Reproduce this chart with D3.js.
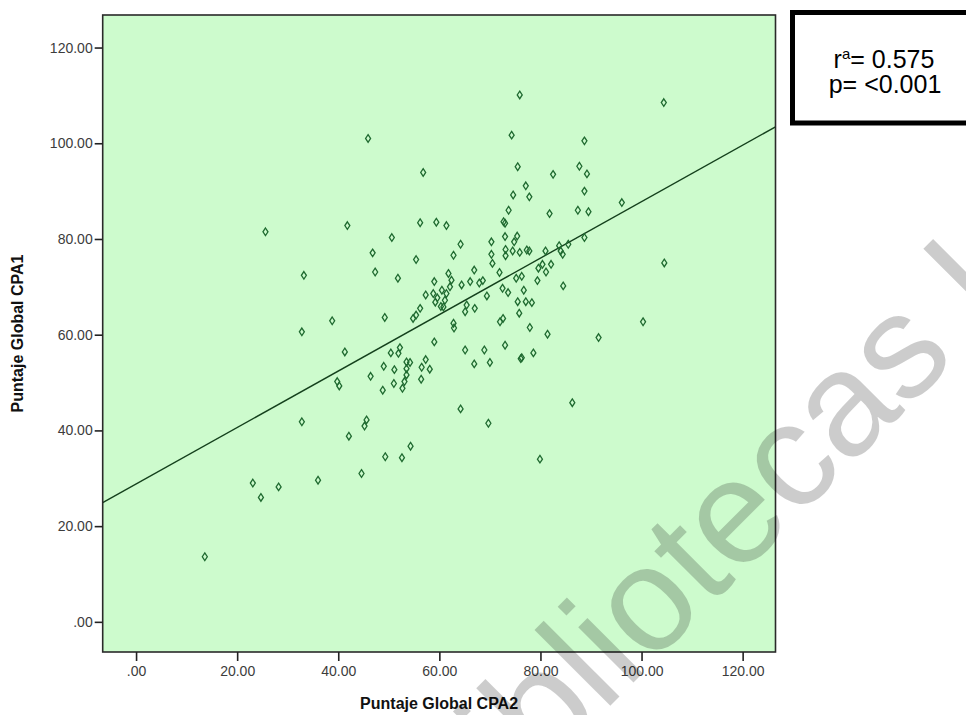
<!DOCTYPE html>
<html>
<head>
<meta charset="utf-8">
<script src="https://cdn.jsdelivr.net/npm/d3@7"></script>
<style>
  body { margin: 0; background: #ffffff; }
  svg { display: block; }
  text { font-family: "Liberation Sans", Arial, sans-serif; }
</style>
</head>
<body>
<svg id="chart" width="966" height="715"></svg>
<script>
// Puntaje Global CPA2 (x) and CPA1 (y), one entry per subject
const cpa2 = [
  45.9, 56.8, 25.6, 41.8, 56.2, 59.4, 50.6, 46.8, 55.4, 33.2,
  47.3, 51.8, 59.0, 57.3, 58.8, 60.5, 59.2, 59.6, 60.3, 56.2,
  54.8, 55.4, 49.2, 38.8, 32.8, 41.3, 50.4, 51.9, 52.2, 59.0,
  49.0, 51.1, 51.0, 48.8, 52.7, 53.5, 54.2, 53.5, 53.5, 53.1,
  56.4, 56.5, 57.3, 58.1, 46.4, 39.8, 40.2, 32.8, 45.2, 45.6,
  42.1, 54.3, 49.3, 52.6, 44.6, 23.1, 24.7, 28.2, 36.0, 13.6,
  75.9, 104.4, 74.3, 88.7, 75.5, 87.7, 89.2, 82.5, 77.1, 77.8,
  74.6, 88.7, 73.7, 81.8, 87.4, 89.5, 96.1, 72.7, 73.0, 61.4,
  64.2, 70.3, 73.0, 75.4, 74.8, 62.8, 70.3, 73.1, 73.1, 74.5,
  75.9, 77.3, 77.8, 81.0, 83.7, 84.0, 84.4, 85.5, 88.7, 70.5,
  66.9, 71.9, 79.6, 80.4, 81.1, 82.1, 104.5, 61.8, 62.4, 62.1,
  61.4, 61.1, 60.8, 64.4, 66.1, 67.9, 68.6, 75.2, 76.3, 79.4,
  84.5, 69.4, 72.5, 73.6, 76.7, 77.1, 78.3, 75.5, 75.8, 65.4,
  65.1, 67.0, 62.8, 62.9, 72.0, 72.6, 77.9, 81.4, 91.5, 100.3,
  65.1, 68.9, 73.0, 66.9, 70.0, 76.1, 76.3, 78.6, 64.2, 69.7,
  86.3, 79.9
];
const cpa1 = [
  101.0, 93.9, 81.5, 82.8, 83.4, 83.5, 80.3, 77.1, 75.7, 72.4,
  73.1, 71.8, 71.1, 68.3, 68.6, 69.3, 66.8, 67.7, 65.9, 65.5,
  63.4, 64.1, 63.6, 62.9, 60.6, 56.4, 56.2, 56.1, 57.3, 58.5,
  53.4, 52.7, 49.8, 48.4, 48.8, 54.3, 54.2, 52.9, 51.6, 50.2,
  50.7, 53.2, 54.8, 52.8, 51.3, 50.2, 49.3, 41.8, 40.9, 42.2,
  38.8, 36.7, 34.5, 34.3, 31.0, 29.0, 26.0, 28.2, 29.6, 13.6,
  110.1, 108.5, 101.7, 100.5, 95.1, 95.2, 93.6, 93.5, 91.1, 88.8,
  89.2, 90.0, 86.0, 85.3, 86.0, 85.7, 87.6, 83.6, 83.3, 82.8,
  78.9, 79.4, 80.5, 80.6, 79.4, 76.6, 76.8, 77.8, 76.5, 77.5,
  77.2, 77.7, 77.5, 77.5, 78.6, 77.5, 76.8, 78.9, 80.3, 74.9,
  73.5, 73.0, 73.9, 74.7, 73.1, 74.7, 75.0, 72.8, 71.4, 70.0,
  68.6, 67.2, 65.8, 70.4, 71.1, 70.8, 71.3, 71.8, 72.2, 71.3,
  70.2, 68.1, 69.7, 68.8, 69.3, 66.9, 66.7, 66.9, 64.5, 66.2,
  64.8, 65.5, 62.4, 61.4, 62.7, 63.4, 61.5, 60.1, 59.4, 62.7,
  56.8, 56.8, 57.8, 53.9, 54.2, 55.0, 55.2, 56.2, 44.5, 41.5,
  45.8, 34.0
];

// Axis ticks and their printed labels
const tickValues = [0, 20, 40, 60, 80, 100, 120];
const tickLabels = [".00", "20.00", "40.00", "60.00", "80.00", "100.00", "120.00"];

// Axis ranges shown on each axis
const xDomain = [-6.6, 126.5];
const yDomain = [-6.3, 126.8];

// Fitted linear regression CPA1 = a + b * CPA2
const fitIntercept = 28.8;
const fitSlope = 0.59;

// Statistics box
const statR = "0.575";
const statP = "<0.001";

const xTitle = "Puntaje Global CPA2";
const yTitle = "Puntaje Global CPA1";
const watermark = "Bibliotecas UA";

const svg = d3.select("#chart");
const plot = { left: 102.7, right: 775.5, top: 15, bottom: 652 };

const x = d3.scaleLinear().domain(xDomain).range([plot.left, plot.right]);
const y = d3.scaleLinear().domain(yDomain).range([plot.bottom, plot.top]);

// Plot background
svg.append("rect")
  .attr("x", plot.left).attr("y", plot.top)
  .attr("width", plot.right - plot.left).attr("height", plot.bottom - plot.top)
  .attr("fill", "#cdfbcd");

svg.append("clipPath").attr("id", "plotClip")
  .append("rect")
  .attr("x", plot.left).attr("y", plot.top)
  .attr("width", plot.right - plot.left).attr("height", plot.bottom - plot.top);

// Regression line across the full x range
const fitLine = d3.line().x(d => x(d)).y(d => y(fitIntercept + fitSlope * d));
svg.append("path")
  .attr("clip-path", "url(#plotClip)")
  .attr("d", fitLine(xDomain))
  .attr("fill", "none")
  .attr("stroke", "#14401c")
  .attr("stroke-width", 1.4);

// Open diamond markers
const diamond = "M0,-3.8L2.5,0L0,3.8L-2.5,0Z";
svg.append("g").attr("clip-path", "url(#plotClip)")
  .selectAll("path")
  .data(d3.range(cpa2.length))
  .join("path")
  .attr("d", diamond)
  .attr("transform", i => `translate(${x(cpa2[i])},${y(cpa1[i])})`)
  .attr("fill", "none")
  .attr("stroke", "#1f6a30")
  .attr("stroke-width", 1.3);

// Frame
svg.append("rect")
  .attr("x", plot.left).attr("y", plot.top)
  .attr("width", plot.right - plot.left).attr("height", plot.bottom - plot.top)
  .attr("fill", "none")
  .attr("stroke", "#2a2a2a")
  .attr("stroke-width", 1.6);

// Axes
const fmt = (d, i) => tickLabels[i];
const xAxis = svg.append("g")
  .attr("transform", `translate(0,${plot.bottom})`)
  .call(d3.axisBottom(x).tickValues(tickValues).tickFormat(fmt).tickSize(9).tickPadding(5));
const yAxis = svg.append("g")
  .attr("transform", `translate(${plot.left},0)`)
  .call(d3.axisLeft(y).tickValues(tickValues).tickFormat(fmt).tickSize(8).tickPadding(2));

[xAxis, yAxis].forEach(g => {
  g.select(".domain").remove();
  g.selectAll(".tick line").attr("stroke", "#222").attr("stroke-width", 1.6);
  g.selectAll(".tick text")
    .attr("fill", "#3c3c3c")
    .style("font-size", "14px")
    .style("font-family", "\"Liberation Sans\", Arial, sans-serif");
});

// Axis titles
svg.append("text")
  .attr("x", (plot.left + plot.right) / 2)
  .attr("y", 709)
  .attr("text-anchor", "middle")
  .style("font-size", "16px")
  .style("font-weight", "bold")
  .attr("fill", "#111")
  .text(xTitle);

svg.append("text")
  .attr("transform", `translate(23,${(plot.top + plot.bottom) / 2}) rotate(-90)`)
  .attr("text-anchor", "middle")
  .style("font-size", "16px")
  .style("font-weight", "bold")
  .attr("fill", "#111")
  .text(yTitle);

// Statistics box
const box = svg.append("g");
box.append("rect")
  .attr("x", 792.5).attr("y", 12.5)
  .attr("width", 200).attr("height", 110.5)
  .attr("fill", "#ffffff")
  .attr("stroke", "#000")
  .attr("stroke-width", 5);

const line1 = box.append("text")
  .attr("x", 884).attr("y", 68)
  .attr("text-anchor", "middle")
  .style("font-size", "25px")
  .attr("fill", "#000");
line1.append("tspan").text("r");
line1.append("tspan").attr("dy", -9).style("font-size", "15px").text("a");
line1.append("tspan").attr("dy", 9).text("= " + statR);

box.append("text")
  .attr("x", 885).attr("y", 92.5)
  .attr("text-anchor", "middle")
  .style("font-size", "25px")
  .attr("fill", "#000")
  .text("p= " + statP);

// Library watermark
svg.append("text")
  .attr("transform", "translate(452,864) rotate(-45)")
  .style("font-size", "148px")
  .attr("fill", "rgba(0,0,0,0.2)")
  .text(watermark);
</script>
</body>
</html>
